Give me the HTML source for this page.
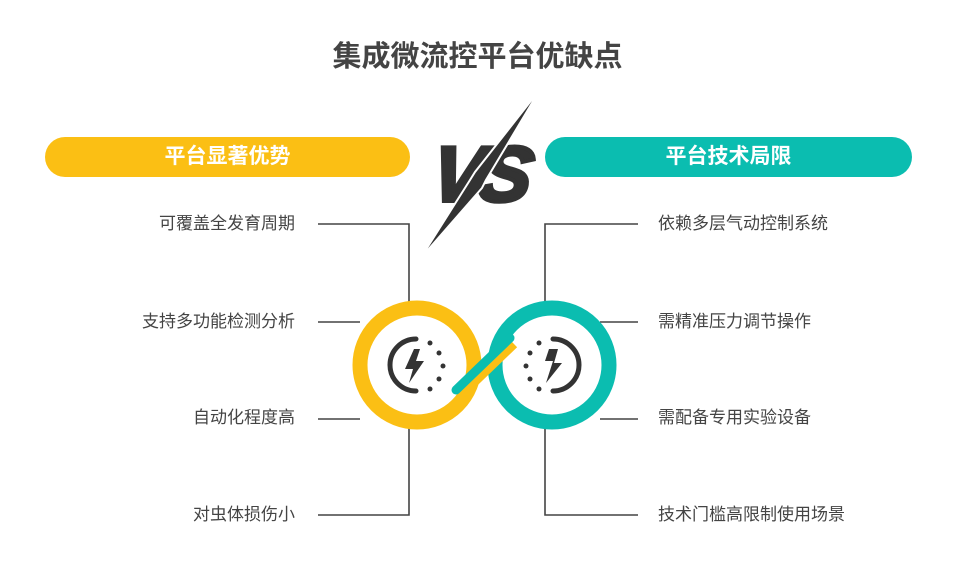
<!DOCTYPE html>
<html><head><meta charset="utf-8"><style>
body{margin:0;width:955px;height:566px;background:#fff;overflow:hidden;font-family:"Liberation Sans","Noto Sans CJK SC",sans-serif;position:relative}
.t{position:absolute;font-size:17px;color:#444;line-height:20px;white-space:nowrap}
.l{text-align:right;right:660px}
.r{left:658px}
.ban{position:absolute;top:137px;height:40px;border-radius:20px;color:#fff;font-weight:bold;font-size:21px;line-height:40px;text-align:center}
</style></head><body>
<div style="position:absolute;top:37px;left:0;width:955px;text-align:center;font-size:29px;font-weight:bold;color:#444;line-height:40px">集成微流控平台优缺点</div>
<div class="ban" style="left:45px;width:365px;background:#FBBF14">平台显著优势</div>
<div class="ban" style="left:545px;width:367px;background:#0BBDB0">平台技术局限</div>
<svg width="955" height="566" style="position:absolute;left:0;top:0">
<g stroke="#444" stroke-width="1.6" fill="none">
<polyline points="318,224 409,224 409,305"/>
<line x1="318" y1="322" x2="360" y2="322"/>
<line x1="318" y1="419" x2="360" y2="419"/>
<polyline points="318,515 409,515 409,425"/>
<polyline points="638,224 545,224 545,305"/>
<line x1="638" y1="322" x2="600" y2="322"/>
<line x1="638" y1="419" x2="600" y2="419"/>
<polyline points="638,515 545,515 545,425"/>
</g>
<text x="480" y="201" text-anchor="middle" font-family="Liberation Sans" font-weight="bold" font-style="italic" font-size="78" fill="#333" stroke="#333" stroke-width="4" letter-spacing="-4" transform="skewX(-8) translate(25,0)">VS</text>
<polygon points="541,88 486,180 482,188 420,259 470,180 475,172" fill="#333" stroke="#fff" stroke-width="2"/>
<circle cx="417" cy="365" r="57" fill="#fff" stroke="#FBBF14" stroke-width="15"/>
<circle cx="552" cy="365" r="57" fill="#fff" stroke="#0BBDB0" stroke-width="15"/>
<line x1="462" y1="394" x2="514" y2="344" stroke="#FBBF14" stroke-width="9"/>
<line x1="456" y1="390" x2="510" y2="338" stroke="#0BBDB0" stroke-width="9" stroke-linecap="round"/>
<g fill="#333">
<path d="M416,339 A26,26 0 0 0 416,391" stroke="#333" stroke-width="5" fill="none" stroke-linecap="round"/>
<circle cx="430" cy="343" r="2.5"/><circle cx="439" cy="353" r="2.5"/><circle cx="443" cy="366" r="2.5"/><circle cx="439" cy="379" r="2.5"/><circle cx="430" cy="389" r="2.5"/>
<polygon points="414,349 405,369 413,369 409,383 424,361 416,361 420,349"/>
<path d="M553,339 A26,26 0 0 1 553,391" stroke="#333" stroke-width="5" fill="none" stroke-linecap="round"/>
<circle cx="539" cy="343" r="2.5"/><circle cx="530" cy="353" r="2.5"/><circle cx="526" cy="366" r="2.5"/><circle cx="530" cy="379" r="2.5"/><circle cx="539" cy="389" r="2.5"/>
<polygon points="549,349 545,361 553,361 546,383 562,363 554,363 558,349"/>
</g>
</svg>
<div class="t l" style="top:214px">可覆盖全发育周期</div>
<div class="t l" style="top:312px">支持多功能检测分析</div>
<div class="t l" style="top:408px">自动化程度高</div>
<div class="t l" style="top:505px">对虫体损伤小</div>
<div class="t r" style="top:214px">依赖多层气动控制系统</div>
<div class="t r" style="top:312px">需精准压力调节操作</div>
<div class="t r" style="top:408px">需配备专用实验设备</div>
<div class="t r" style="top:505px">技术门槛高限制使用场景</div>
</body></html>
